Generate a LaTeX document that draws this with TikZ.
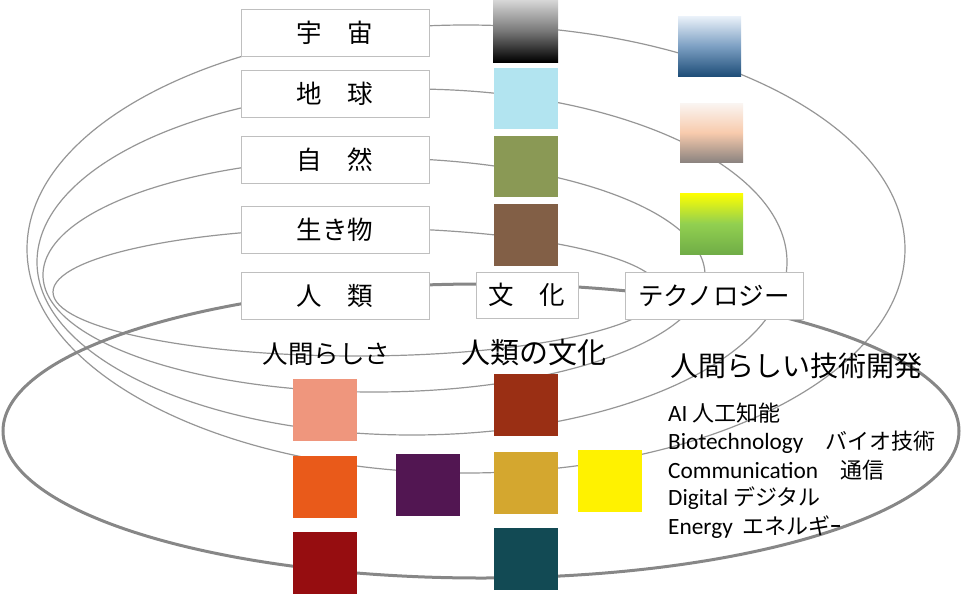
\documentclass[tikz,border=0pt]{standalone}
\usepackage{fontspec}
\setmainfont{Noto Sans CJK JP}
\newfontfamily\latinfont{Carlito}[Scale=1.06]
\usepackage{tikz}
\usetikzlibrary{positioning}
\definecolor{orbitgray}{RGB}{150,150,150}
\definecolor{ringgray}{RGB}{135,135,135}
\definecolor{boxline}{RGB}{191,191,191}
\definecolor{spacetop}{RGB}{215,215,215}
\definecolor{spacemid}{RGB}{120,120,120}
\definecolor{earthblue}{RGB}{178,228,240}
\definecolor{natureolive}{RGB}{138,153,85}
\definecolor{lifebrown}{RGB}{130,95,70}
\definecolor{bluetop}{RGB}{235,242,250}
\definecolor{bluemid}{RGB}{125,160,195}
\definecolor{bluebot}{RGB}{31,78,121}
\definecolor{peachtop}{RGB}{250,245,242}
\definecolor{peachmid}{RGB}{248,203,173}
\definecolor{peachbot}{RGB}{140,132,128}
\definecolor{greenmid}{RGB}{146,208,80}
\definecolor{greenbot}{RGB}{112,173,71}
\definecolor{salmon}{RGB}{239,150,125}
\definecolor{tangerine}{RGB}{233,90,26}
\definecolor{crimson}{RGB}{150,13,16}
\definecolor{plum}{RGB}{82,22,82}
\definecolor{rust}{RGB}{154,47,20}
\definecolor{mustard}{RGB}{212,167,47}
\definecolor{deepteal}{RGB}{18,74,84}
\tikzstyle{wordbox} = [rectangle, draw=boxline, fill=white, line width=1pt, minimum width=188pt, minimum height=47pt, inner sep=0pt, font=\fontsize{25.5}{30}\selectfont]
\tikzstyle{swatch} = [rectangle, minimum width=64pt, minimum height=62pt, inner sep=0pt]
\tikzstyle{orbit} = [draw=orbitgray, line width=1.2pt]
\tikzstyle{ring} = [draw=ringgray, line width=3pt]
\tikzstyle{heading} = [inner sep=0pt]
\tikzstyle{listitem} = [inner sep=0pt, anchor=west, font=\fontsize{22}{26}\selectfont]

\begin{document}
\begin{tikzpicture}[x=1pt,y=-1pt]
		\useasboundingbox (0,0) rectangle (980,595);
		
		% Orbits
		\draw [orbit] (466,249) ellipse [x radius=439pt, y radius=224pt];
		\draw [orbit] (412,262) ellipse [x radius=375pt, y radius=173pt];
		\draw [orbit] (374,275) ellipse [x radius=331pt, y radius=117pt];
		\draw [orbit] (357,292) ellipse [x radius=304pt, y radius=64pt];
		\draw [ring] (481,431) ellipse [x radius=478pt, y radius=147pt];
		
		% Word boxes
		\node (space) [wordbox] at (335,33) {宇　宙};
		\node (earth) [wordbox] at (335,93.5) {地　球};
		\node (nature) [wordbox] at (335,159.5) {自　然};
		\node (life) [wordbox] at (335,229.5) {生き物};
		\node (mankind) [wordbox] at (335,295.5) {人　類};
		\node (culture) [wordbox, minimum width=102pt, minimum height=46pt] at (527,295) {文　化};
		\node (tech) [wordbox, minimum width=178pt] at (714,295.5) {テクノロジー};
		
		% Swatches, middle column
		\node (spacesq) [swatch, minimum width=65pt, top color=spacetop, bottom color=black, middle color=spacemid] at (525.5,31) {};
		\node (earthsq) [swatch, fill=earthblue, minimum height=61pt] at (525.5,98.5) {};
		\node (naturesq) [swatch, fill=natureolive, minimum height=61pt] at (525.5,166.5) {};
		\node (lifesq) [swatch, fill=lifebrown] at (525.5,235) {};
		
		% Swatches, right column
		\node (bluesq) [swatch, minimum width=63pt, minimum height=60pt, top color=bluetop, bottom color=bluebot, middle color=bluemid] at (709.5,46) {};
		\node (peachsq) [swatch, minimum width=63pt, minimum height=59pt, top color=peachtop, bottom color=peachbot, middle color=peachmid] at (711.5,132.5) {};
		\node (greensq) [swatch, minimum width=63pt, minimum height=61pt, top color=yellow, bottom color=greenbot, middle color=greenmid] at (711.5,223.5) {};
		
		% Swatches, lower part
		\node (humansq1) [swatch, fill=salmon] at (325,409.5) {};
		\node (humansq2) [swatch, fill=tangerine] at (325,487) {};
		\node (humansq3) [swatch, fill=crimson] at (325,562.5) {};
		\node (plumsq) [swatch, fill=plum] at (428,484.5) {};
		\node (culturesq1) [swatch, fill=rust] at (525.5,404.5) {};
		\node (culturesq2) [swatch, fill=mustard] at (525.5,482.5) {};
		\node (culturesq3) [swatch, fill=deepteal] at (525.5,559) {};
		\node (yellowsq) [swatch, fill=yellow] at (610,480.5) {};
		
		% Headings
		\node (humanity) [heading, font=\fontsize{25.5}{30}\selectfont] at (326.5,354) {人間らしさ};
		\node (humanculture) [heading, font=\fontsize{29}{34}\selectfont] at (533.5,352) {人類の文化};
		\node (humantech) [heading, anchor=west, font=\fontsize{28}{33}\selectfont] at (670,366) {人間らしい技術開発};
		
		% Technology list
		\node (ai) [listitem] at (668,413) {{\latinfont AI} 人工知能};
		\node (bio) [listitem] at (668,442) {{\latinfont Biotechnology}　バイオ技術};
		\node (comm) [listitem] at (668,470) {{\latinfont Communication}　通信};
		\node (digital) [listitem] at (668,498) {{\latinfont Digital} デジタル};
		\node (energy) [listitem] at (668,527) {{\latinfont Energy}\ \ エネルギｰ};
		
	\end{tikzpicture}
\end{document}
